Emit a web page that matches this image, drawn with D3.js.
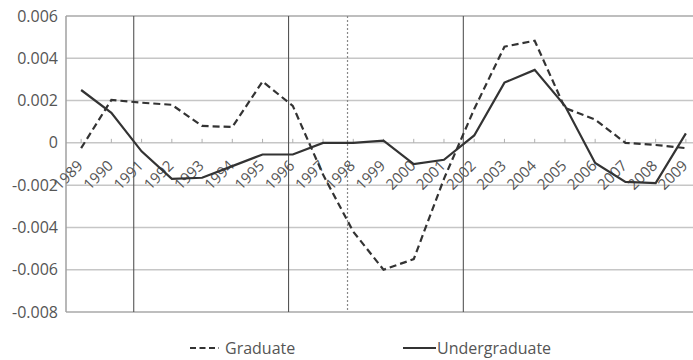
<!DOCTYPE html>
<html>
<head>
<meta charset="utf-8">
<script src="https://cdn.jsdelivr.net/npm/d3@7"></script>
<style>
  html, body { margin: 0; padding: 0; background: #fff; }
  svg { display: block; }
  text { font-family: "Open Sans", sans-serif; fill: #555; }
</style>
</head>
<body>
<svg id="chart" width="693" height="360"></svg>
<script>
const years = ["1989","1990","1991","1992","1993","1994","1995","1996","1997","1998","1999",
               "2000","2001","2002","2003","2004","2005","2006","2007","2008","2009"];
const graduate = [-0.00025, 0.00203, 0.0019, 0.0018, 0.0008, 0.00075, 0.0029, 0.00175, -0.0015, -0.0042, -0.006,
                  -0.0055, -0.0017, 0.0016, 0.00455, 0.00483, 0.00165, 0.0011, 0.0, -0.0001, -0.00025];
const undergraduate = [0.0025, 0.00142, -0.0004, -0.0017, -0.00165, -0.0011, -0.00055, -0.00055, 0.0, 0.0, 0.0001,
                       -0.001, -0.0008, 0.00035, 0.00285, 0.00345, 0.00175, -0.00095, -0.00185, -0.0019, 0.00045];
const yTicks = [0.006, 0.004, 0.002, 0, -0.002, -0.004, -0.006, -0.008];
const yTickLabels = ["0.006", "0.004", "0.002", "0", "-0.002", "-0.004", "-0.006", "-0.008"];
// annotation vertical lines (fractional year positions) and their style
const markerYears = [1990.74, 1995.86, 1997.81, 2001.64];
const markerDashed = [false, false, true, false];
const seriesNames = ["Graduate", "Undergraduate"];

const svg = d3.select("#chart");
const pLeft = 66, pRight = 701, pTop = 16, pBottom = 312;

const x = d3.scalePoint().domain(years).range([pLeft, pRight]).padding(0.5);
const xYear = d3.scaleLinear().domain([1989, 2009]).range([x("1989"), x("2009")]);
const y = d3.scaleLinear().domain([-0.008, 0.006]).range([pBottom, pTop]);

// horizontal gridlines
svg.append("g").selectAll("line").data(yTicks).join("line")
  .attr("x1", pLeft).attr("x2", 693)
  .attr("y1", d => y(d)).attr("y2", d => y(d))
  .attr("stroke", d => (d === 0.006 || d === -0.008) ? "#a8a8a8" : "#c6c6c6")
  .attr("stroke-width", 1.5);

// left axis line
svg.append("line").attr("x1", pLeft).attr("x2", pLeft).attr("y1", pTop).attr("y2", pBottom)
  .attr("stroke", "#a0a0a0").attr("stroke-width", 1.5);

// zero line ticks at category centers
svg.append("g").selectAll("line").data(years).join("line")
  .attr("x1", d => x(d)).attr("x2", d => x(d))
  .attr("y1", y(0) - 4).attr("y2", y(0))
  .attr("stroke", "#b0b0b0").attr("stroke-width", 1);

// annotation vertical lines
svg.append("g").selectAll("line").data(markerYears).join("line")
  .attr("x1", d => xYear(d)).attr("x2", d => xYear(d))
  .attr("y1", pTop).attr("y2", pBottom)
  .attr("stroke", (d, i) => markerDashed[i] ? "#888" : "#555")
  .attr("stroke-width", (d, i) => markerDashed[i] ? 1.2 : 1.1)
  .attr("stroke-dasharray", (d, i) => markerDashed[i] ? "2,2" : null);

// y labels
svg.append("g").selectAll("text").data(yTicks).join("text")
  .attr("x", 58).attr("y", d => y(d))
  .attr("dy", "0.35em")
  .attr("text-anchor", "end")
  .style("font-size", "16px")
  .text((d, i) => yTickLabels[i]);

// category labels, rotated
svg.append("g").selectAll("text").data(years).join("text")
  .attr("transform", d => `translate(${x(d) - 1},${y(0) + 20}) rotate(-45)`)
  .attr("text-anchor", "end")
  .attr("dy", "0.35em")
  .style("font-size", "15px")
  .text(d => d);

const line = d3.line().x((d, i) => x(years[i])).y(d => y(d));

svg.append("path").datum(graduate)
  .attr("d", line).attr("fill", "none")
  .attr("stroke", "#333").attr("stroke-width", 2.2)
  .attr("stroke-dasharray", "7,4");

svg.append("path").datum(undergraduate)
  .attr("d", line).attr("fill", "none")
  .attr("stroke", "#333").attr("stroke-width", 2.2);

// legend
const lg = svg.append("g");
lg.append("line").attr("x1", 190).attr("x2", 219).attr("y1", 348).attr("y2", 348)
  .attr("stroke", "#333").attr("stroke-width", 2.2).attr("stroke-dasharray", "6,3.5");
lg.append("text").attr("x", 225).attr("y", 354).style("font-size", "16px").text(seriesNames[0]);
lg.append("line").attr("x1", 403).attr("x2", 436).attr("y1", 348).attr("y2", 348)
  .attr("stroke", "#333").attr("stroke-width", 2.2);
lg.append("text").attr("x", 437).attr("y", 354).style("font-size", "16px").text(seriesNames[1]);
</script>
</body>
</html>
